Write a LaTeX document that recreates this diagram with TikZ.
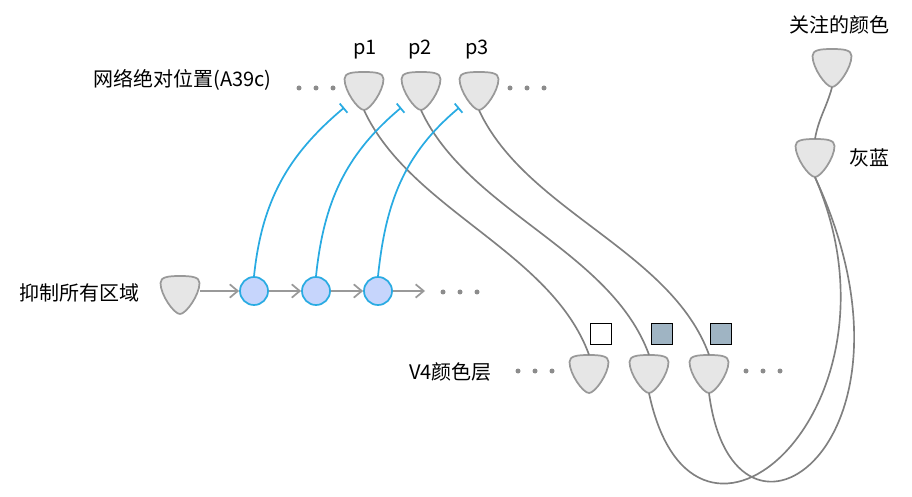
\documentclass[tikz,border=0pt]{standalone}
\usepackage{fontspec}
\setmainfont{Noto Sans CJK SC}
\usetikzlibrary{arrows.meta}

\definecolor{cellgray}{HTML}{999999}
\definecolor{cellfill}{HTML}{E6E6E6}
\definecolor{axongray}{HTML}{808080}
\definecolor{relayblue}{HTML}{29ABE2}
\definecolor{relayfill}{HTML}{C6D5FC}
\definecolor{dotgray}{HTML}{8C8C8C}
\definecolor{bluegray}{HTML}{9FB4C3}

\tikzset{
    pics/neuron/.style={
      code={
        \filldraw[draw=cellgray, fill=cellfill, line width=1.3pt]
          (-19.5,12) .. controls (-19.5,18) and (-12,19) .. (0,19)
          .. controls (12,19) and (19.5,18) .. (19.5,12)
          .. controls (19.5,0) and (6,-19) .. (0,-19)
          .. controls (-6,-19) and (-19.5,0) .. (-19.5,12) -- cycle;
        \node[inner sep=0pt, minimum width=29.25pt, minimum height=28.5pt] (-n) {};
      }
    }
  }
\tikzset{
    lbl/.style={font=\fontsize{15}{18}\selectfont, inner sep=0pt},
    relay/.style={circle, draw=relayblue, fill=relayfill, line width=1.3pt,
      minimum size=21pt, inner sep=0pt},
    colorbox/.style={draw=black, line width=1.4pt, minimum size=15.75pt, inner sep=0pt},
    axon/.style={draw=axongray, line width=1.25pt},
    inhib/.style={draw=relayblue, line width=1.3pt, -{Bar[width=9pt]}},
    feed/.style={draw=cellgray, line width=1.3pt, -{Straight Barb[length=6pt,width=10pt]}}
  }

\begin{document}
\begin{tikzpicture}[x=0.75pt, y=0.75pt]
    \useasboundingbox (0,0) rectangle (912,496);

    % position layer
    \pic (p1) at (364,405) {neuron};
    \pic (p2) at (421,405) {neuron};
    \pic (p3) at (479,405) {neuron};
    \node[lbl] (lp1) at (365,446) {p1};
    \node[lbl] (lp2) at (420,446) {p2};
    \node[lbl] (lp3) at (477,446) {p3};
    \node[lbl, anchor=east] (lpos) at (272,416) {网络绝对位置(A39c)};

    % inhibition chain
    \pic (inh) at (180,201) {neuron};
    \node[relay] (c1) at (254,205) {};
    \node[relay] (c2) at (316,205) {};
    \node[relay] (c3) at (378,205) {};
    \coordinate (relayend) at (425,205);
    \node[lbl, anchor=east] (linh) at (140,203) {抑制所有区域};

    % V4 layer
    \pic (v1) at (589,122) {neuron};
    \pic (v2) at (649,122) {neuron};
    \pic (v3) at (709,122) {neuron};
    \node[colorbox, fill=white] (s1) at (601,162) {};
    \node[colorbox, fill=bluegray] (s2) at (662,162) {};
    \node[colorbox, fill=bluegray] (s3) at (721,162) {};
    \node[lbl, anchor=east] (lv4) at (492,124) {V4颜色层};

    % attended colour
    \pic (att) at (832,428) {neuron};
    \pic (gb) at (815,338) {neuron};
    \node[lbl] (latt) at (839,471) {关注的颜色};
    \node[lbl] (lgb) at (869,338) {灰蓝};

    % dots
    \foreach \x in {299,316,333,510,527,544}
      \fill[dotgray] (\x,408) circle(2.5);
    \foreach \x in {443,460,477}
      \fill[dotgray] (\x,204) circle(2.5);
    \foreach \x in {518,535,552,746,763,780}
      \fill[dotgray] (\x,125) circle(2.5);

    % connections
    \draw[axon] (p1-n.south) to[out=-65,in=110,looseness=0.85] (v1-n.north);
    \draw[axon] (p2-n.south) to[out=-65,in=110,looseness=0.85] (v2-n.north);
    \draw[axon] (p3-n.south) to[out=-65,in=110,looseness=0.85] (v3-n.north);
    \draw[axon] (att-n.south) to[out=-105,in=80] (gb-n.north);
    \draw[axon] (gb-n.south) .. controls +(100,-230) and +(45,-212) .. (v2-n.south);
    \draw[axon] (gb-n.south) .. controls +(123,-265) and +(25,-192) .. (v3-n.south);

    \draw[feed] (inh-n.east |- c1) -- (c1);
    \draw[feed] (c1) -- (c2);
    \draw[feed] (c2) -- (c3);
    \draw[feed] (c3) -- (relayend);

    \draw[inhib] (c1.north) to[out=84,in=-140] (p1-n.-140);
    \draw[inhib] (c2.north) to[out=84,in=-140] (p2-n.-140);
    \draw[inhib] (c3.north) to[out=84,in=-140] (p3-n.-140);

  \end{tikzpicture}
\end{document}
